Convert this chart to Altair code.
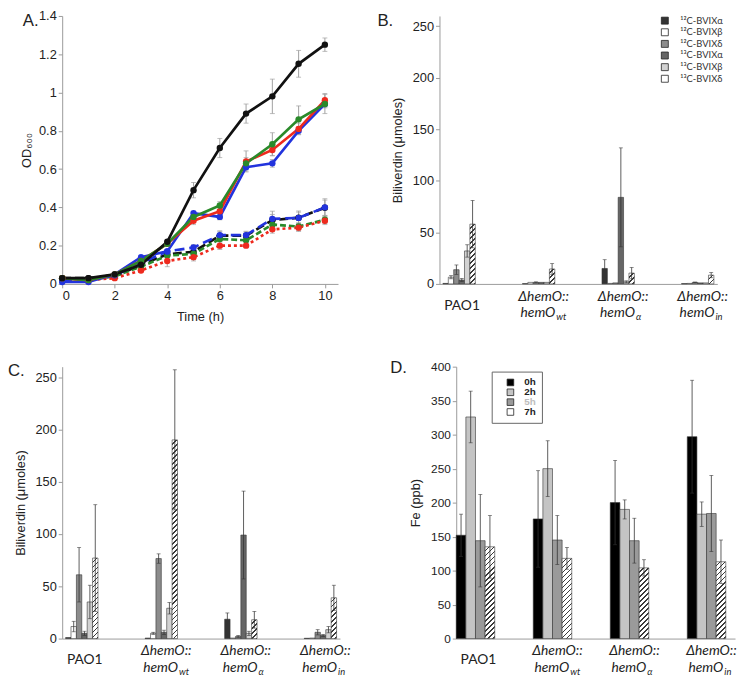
import math
import altair as alt
import pandas as pd

# ---------------- Panel A: growth curves ----------------
TIME_H = [0, 1, 2, 3, 4, 5, 6, 7, 8, 9, 10]

OD_BLACK = [0.03, 0.03, 0.05, 0.10, 0.22, 0.49, 0.71, 0.89, 0.98, 1.15, 1.25]
OD_BLACK_ERR = [0.005, 0.005, 0.005, 0.01, 0.01, 0.04, 0.05, 0.05, 0.09, 0.07, 0.035]
OD_RED = [0.03, 0.02, 0.05, 0.12, 0.21, 0.33, 0.38, 0.64, 0.70, 0.81, 0.96]
OD_RED_ERR = [0.005, 0.005, 0.005, 0.01, 0.01, 0.02, 0.02, 0.055, 0.03, 0.03, 0.035]
OD_GREEN = [0.03, 0.02, 0.05, 0.12, 0.21, 0.35, 0.41, 0.63, 0.73, 0.86, 0.94]
OD_GREEN_ERR = [0.005, 0.005, 0.005, 0.01, 0.01, 0.02, 0.02, 0.03, 0.06, 0.07, 0.05]
OD_BLUE = [0.01, 0.01, 0.05, 0.14, 0.17, 0.37, 0.35, 0.61, 0.63, 0.80, 0.94]
OD_BLUE_ERR = [0.005, 0.005, 0.005, 0.01, 0.01, 0.01, 0.015, 0.02, 0.02, 0.02, 0.02]
OD_BLACK_DASH = [0.03, 0.03, 0.04, 0.10, 0.155, 0.168, 0.252, 0.252, 0.333, 0.346, 0.398]
OD_BLACK_DASH_ERR = [0.005, 0.005, 0.005, 0.01, 0.02, 0.015, 0.025, 0.02, 0.03, 0.035, 0.04]
OD_BLUE_DASH = [0.02, 0.02, 0.045, 0.11, 0.17, 0.19, 0.255, 0.255, 0.34, 0.345, 0.40]
OD_BLUE_DASH_ERR = [0.005, 0.005, 0.005, 0.01, 0.01, 0.015, 0.02, 0.02, 0.04, 0.03, 0.045]
OD_GREEN_DASH = [0.03, 0.02, 0.04, 0.09, 0.148, 0.157, 0.235, 0.228, 0.31, 0.30, 0.335]
OD_GREEN_DASH_ERR = [0.005, 0.005, 0.005, 0.01, 0.01, 0.01, 0.015, 0.015, 0.02, 0.02, 0.02]
OD_RED_DOT = [0.03, 0.02, 0.03, 0.07, 0.12, 0.14, 0.20, 0.20, 0.285, 0.294, 0.33]
OD_RED_DOT_ERR = [0.005, 0.005, 0.005, 0.01, 0.03, 0.02, 0.02, 0.01, 0.02, 0.02, 0.02]

# ---------------- Panels B-D: groups ----------------
GROUP_KEYS = ["PAO1", "wt", "alpha", "in"]
GROUP_LINE1 = ["PAO1", "ΔhemO::", "ΔhemO::", "ΔhemO::"]
GROUP_LINE2 = ["", "hemO", "hemO", "hemO"]
GROUP_SUB = ["", "wt", "α", "in"]

BV_SERIES = ["¹²C-BVIXα", "¹²C-BVIXβ", "¹²C-BVIXδ", "¹³C-BVIXα", "¹³C-BVIXβ", "¹³C-BVIXδ"]

# Panel B (biliverdin, µmoles) one list per series, values per group
B_12CA = [0.5, 0.3, 15.0, 0.3]
B_12CA_ERR = [0, 0, 8.5, 0]
B_12CB = [6.5, 1.5, 0.5, 0.5]
B_12CB_ERR = [1.5, 0, 0, 0]
B_12CD = [13.8, 1.5, 1.0, 1.5]
B_12CD_ERR = [4.6, 0.5, 0, 0.3]
B_13CA = [3.8, 1.5, 84.0, 1.0]
B_13CA_ERR = [1.5, 0, 48.0, 0]
B_13CB = [32.0, 1.5, 2.0, 1.0]
B_13CB_ERR = [6.0, 0, 1.0, 0]
B_13CD = [58.0, 14.5, 10.5, 8.5]
B_13CD_ERR = [23.0, 5.2, 5.5, 2.5]

# Panel C
C_12CA = [1.0, 0.5, 18.5, 0.3]
C_12CA_ERR = [0, 0, 6.0, 0]
C_12CB = [11.5, 5.0, 0.5, 0.5]
C_12CB_ERR = [5.0, 1.0, 0, 0]
C_12CD = [61.0, 76.5, 2.0, 6.0]
C_12CD_ERR = [26.0, 4.5, 1.0, 2.5]
C_13CA = [5.0, 6.0, 99.0, 3.0]
C_13CA_ERR = [2.0, 2.0, 42.0, 1.0]
C_13CB = [35.0, 29.0, 5.0, 8.5]
C_13CB_ERR = [16.0, 5.5, 2.0, 3.0]
C_13CD = [77.0, 190.0, 18.0, 39.0]
C_13CD_ERR = [51.0, 67.0, 8.0, 12.0]

# Panel D (Fe, ppb)
FE_SERIES = ["0h", "2h", "5h", "7h"]
D_0H = [152, 176, 200, 297]
D_0H_ERR = [31, 71, 62, 83]
D_2H = [326, 250, 190, 183]
D_2H_ERR = [38, 41, 14, 18]
D_5H = [144, 145, 144, 184]
D_5H_ERR = [68, 36, 33, 56]
D_7H = [135, 118, 104, 113]
D_7H_ERR = [46, 16, 12, 32]

PANEL_LETTERS = ["A.", "B.", "C.", "D."]

NUM_FONT = "Liberation Sans"
CAT_FONT = "Lato"
AXIS_GRAY = "#9a9a9a"

INDEP = dict(x="independent", y="independent", xOffset="independent",
             color="independent", fill="independent")


def hatch_fill(w, h, period=3.6, frac=0.3, ink="#3a3a3a", bg="#ffffff"):
    """Diagonal '/' hatching as a bounding-box linear gradient."""
    if h < 1.5:
        return bg
    n = (w + h) / math.sqrt(2) / period
    d = w * w + h * h
    x2 = w * (w + h) / d
    y2 = h * (w + h) / d
    stops = []
    k = 0
    while k < n:
        a = k / n
        b = min((k + 1 - frac) / n, 1.0)
        c = min((k + 1) / n, 1.0)
        stops += [{"offset": a, "color": bg}, {"offset": b, "color": bg},
                  {"offset": b, "color": ink}, {"offset": c, "color": ink}]
        k += 1
    return {"gradient": "linear", "x1": 0, "y1": 0, "x2": x2, "y2": y2, "stops": stops}


def letter_layer(text, dx, dy):
    return alt.Chart(pd.DataFrame({"t": [text]})).mark_text(
        align="left", baseline="middle", font=NUM_FONT, fontSize=17, color="#222"
    ).encode(x=alt.value(dx), y=alt.value(dy), text="t:N")


# ---------------- Panel A ----------------
A_W, A_H = 280, 272
a_specs = [
    (OD_BLACK_DASH, OD_BLACK_DASH_ERR, "#111111", [9, 4]),
    (OD_GREEN_DASH, OD_GREEN_DASH_ERR, "#2a8a2a", [6, 3]),
    (OD_RED_DOT, OD_RED_DOT_ERR, "#ee2a1e", [3, 3]),
    (OD_BLUE_DASH, OD_BLUE_DASH_ERR, "#2233dd", [10, 5]),
    (OD_BLUE, OD_BLUE_ERR, "#2233dd", None),
    (OD_RED, OD_RED_ERR, "#ee2a1e", None),
    (OD_GREEN, OD_GREEN_ERR, "#2a8a2a", None),
    (OD_BLACK, OD_BLACK_ERR, "#111111", None),
]

axA_x = alt.Axis(values=[0, 2, 4, 6, 8, 10], title="Time (h)", grid=False, labelFontSize=13,
                 titleFontSize=13, titlePadding=8, format="d")
axA_y = alt.Axis(values=[0, 0.2, 0.4, 0.6, 0.8, 1.0, 1.2, 1.4], format=".1~f", title="OD₆₀₀",
                 grid=False, labelFontSize=13, titleFontSize=13, titlePadding=5)
scA_x = alt.Scale(domain=[0, 10.5], nice=False, zero=False)
scA_y = alt.Scale(domain=[0, 1.4], nice=False)

err_rows = []
for vals, errs, col, dash in a_specs:
    for t, v, e in zip(TIME_H, vals, errs):
        if e >= 0.012:
            err_rows.append({"t": t, "lo": v - e, "hi": v + e})
err_df = pd.DataFrame(err_rows)

a_layers = [
    alt.Chart(err_df).mark_rule(color="#a0a0a0", strokeWidth=1).encode(
        x=alt.X("t:Q", scale=scA_x, axis=axA_x), y=alt.Y("lo:Q", scale=scA_y, axis=axA_y), y2="hi:Q"),
    alt.Chart(err_df).mark_tick(color="#a0a0a0", orient="horizontal", size=5, thickness=1).encode(
        x=alt.X("t:Q", scale=scA_x, axis=axA_x), y=alt.Y("lo:Q", scale=scA_y, axis=axA_y)),
    alt.Chart(err_df).mark_tick(color="#a0a0a0", orient="horizontal", size=5, thickness=1).encode(
        x=alt.X("t:Q", scale=scA_x, axis=axA_x), y=alt.Y("hi:Q", scale=scA_y, axis=axA_y)),
]
point_layers = []
for vals, errs, col, dash in a_specs:
    df = pd.DataFrame({"t": TIME_H, "v": vals})
    base = alt.Chart(df).encode(x=alt.X("t:Q", scale=scA_x, axis=axA_x),
                                y=alt.Y("v:Q", scale=scA_y, axis=axA_y))
    kw = {"color": col, "strokeWidth": 2.7}
    if dash is not None:
        kw["strokeDash"] = dash
    a_layers.append(base.mark_line(**kw))
    point_layers.append(base.mark_circle(color=col, size=42, opacity=1))
a_layers += point_layers
a_layers.append(letter_layer(PANEL_LETTERS[0], -40, 5))
panelA = alt.layer(*a_layers).properties(width=A_W, height=A_H)


# ---------------- Bar panels ----------------
def bar_panel(series, colors, values, errors, width, height, ymax, yvalues, ytitle,
              pad_inner, pad_outer, align, legend, letter, ldx, ldy, label_size):
    rows = []
    for s, vals, errs in zip(series, values, errors):
        for g, v, e in zip(GROUP_KEYS, vals, errs):
            rows.append({"group": g, "series": s, "v": v, "lo": v - e, "hi": v + e, "err": e})
    df = pd.DataFrame(rows)
    step = width / (len(GROUP_KEYS) - pad_inner + 2 * pad_outer)
    bar_w = step * (1 - pad_inner) / len(series)
    px = height / ymax
    hatch_name = series[-1]
    hatch_rows = []
    for r in rows:
        if r["series"] == hatch_name:
            hatch_rows.append({"group": r["group"], "series": r["series"], "v": r["v"],
                               "fillv": hatch_fill(bar_w, r["v"] * px)})

    x = alt.X("group:N", scale=alt.Scale(domain=GROUP_KEYS, paddingInner=pad_inner,
                                         paddingOuter=pad_outer, align=align),
              axis=alt.Axis(labels=False, ticks=False, title=None, domainColor=AXIS_GRAY))
    xo = alt.XOffset("series:N", scale=alt.Scale(domain=series, paddingInner=0, paddingOuter=0))
    ysc = alt.Scale(domain=[0, ymax], nice=False)
    yax = alt.Axis(values=yvalues, title=ytitle, grid=False, labelFontSize=label_size,
                   titleFontSize=13, titlePadding=8)

    solid = alt.Chart(df[df.series != hatch_name]).mark_bar(stroke="#333333", strokeWidth=0.6).encode(
        x=x, xOffset=xo, y=alt.Y("v:Q", stack=None, scale=ysc, axis=yax),
        color=alt.Color("series:N", scale=alt.Scale(domain=series, range=colors), legend=legend))
    hatched = alt.Chart(alt.Data(values=hatch_rows)).mark_bar(stroke="#333333", strokeWidth=0.6).encode(
        x=x, xOffset=xo, y=alt.Y("v:Q", stack=None, scale=ysc, axis=yax),
        fill=alt.Fill("fillv:N", scale=None))
    de = df[df.err > 0]
    rule = alt.Chart(de).mark_rule(color="#333333", strokeWidth=0.8).encode(
        x=x, xOffset=xo, y=alt.Y("lo:Q", scale=ysc, axis=yax), y2="hi:Q")
    cap_lo = alt.Chart(de).mark_tick(color="#333333", size=4, thickness=0.8).encode(
        x=x, xOffset=xo, y=alt.Y("lo:Q", scale=ysc, axis=yax))
    cap_hi = alt.Chart(de).mark_tick(color="#333333", size=4, thickness=0.8).encode(
        x=x, xOffset=xo, y=alt.Y("hi:Q", scale=ysc, axis=yax))

    lab = pd.DataFrame({"group": GROUP_KEYS, "l1": GROUP_LINE1, "l2": GROUP_LINE2, "sub": GROUP_SUB})
    pao = alt.Chart(lab.iloc[:1]).mark_text(font=CAT_FONT, fontSize=14, baseline="middle", dx=3,
                                            color="#222").encode(
        x=x, y=alt.value(height + 22), text="l1:N")
    l1 = alt.Chart(lab.iloc[1:]).mark_text(font=CAT_FONT, fontSize=14, fontStyle="italic",
                                           baseline="middle", dx=5, color="#222").encode(
        x=x, y=alt.value(height + 13), text="l1:N")
    l2 = alt.Chart(lab.iloc[1:]).mark_text(font=CAT_FONT, fontSize=14, fontStyle="italic",
                                           baseline="middle", align="right", dx=17, color="#222").encode(
        x=x, y=alt.value(height + 30), text="l2:N")
    sub = alt.Chart(lab.iloc[1:]).mark_text(font=CAT_FONT, fontSize=9.5, fontStyle="italic",
                                            baseline="middle", align="left", dx=18, color="#222").encode(
        x=x, y=alt.value(height + 34), text="sub:N")
    return alt.layer(solid, hatched, rule, cap_lo, cap_hi, pao, l1, l2, sub,
                     letter_layer(letter, ldx, ldy)).properties(width=width, height=height)


BV_COLORS = ["#333333", "#ffffff", "#8c8c8c", "#666666", "#d2d2d2", "#ffffff"]

legendB = alt.Legend(orient="none", legendX=224, legendY=0, title=None, symbolType="square",
                     symbolSize=50, symbolStrokeColor="#222222", symbolStrokeWidth=0.8,
                     labelFont=CAT_FONT, labelFontSize=9.5, labelColor="#333333", rowPadding=0.8,
                     labelOffset=11)

panelB = bar_panel(BV_SERIES, BV_COLORS,
                   [B_12CA, B_12CB, B_12CD, B_13CA, B_13CB, B_13CD],
                   [B_12CA_ERR, B_12CB_ERR, B_12CD_ERR, B_13CA_ERR, B_13CB_ERR, B_13CD_ERR],
                   282, 272, 260, [0, 50, 100, 150, 200, 250], "Biliverdin (μmoles)",
                   0.593, 0.043, 0.5, legendB, PANEL_LETTERS[1], -63, 5, 13)

panelC = bar_panel(BV_SERIES, BV_COLORS,
                   [C_12CA, C_12CB, C_12CD, C_13CA, C_13CB, C_13CD],
                   [C_12CA_ERR, C_12CB_ERR, C_12CD_ERR, C_13CA_ERR, C_13CB_ERR, C_13CD_ERR],
                   282, 276, 260, [0, 50, 100, 150, 200, 250], "Biliverdin (μmoles)",
                   0.593, 0.043, 0.5, None, PANEL_LETTERS[2], -55, 4, 13)

legendD = alt.Legend(orient="none", legendX=36, legendY=5, title=None, symbolType="square",
                     symbolSize=45, symbolStrokeColor="#222222", symbolStrokeWidth=0.8,
                     labelFont=NUM_FONT, labelFontSize=10, labelFontWeight="bold",
                     labelColor={"expr": "datum.label == '5h' ? '#bdbdbd' : '#222222'"},
                     strokeColor="#666666", fillColor="#ffffff", padding=6, rowPadding=0,
                     symbolOffset=8, labelOffset=9)

panelD = bar_panel(FE_SERIES, ["#000000", "#c4c4c4", "#9a9a9a", "#ffffff"],
                   [D_0H, D_2H, D_5H, D_7H],
                   [D_0H_ERR, D_2H_ERR, D_5H_ERR, D_7H_ERR],
                   283, 276, 400, [0, 50, 100, 150, 200, 250, 300, 350, 400], "Fe (ppb)",
                   0.5, 0.06, 0.0, legendD, PANEL_LETTERS[3], -67, 1, 12)

row1 = alt.hconcat(panelA, panelB, spacing=40).resolve_scale(**INDEP).resolve_legend(color="independent")
row2 = alt.hconcat(panelC, panelD, spacing=40).resolve_scale(**INDEP).resolve_legend(color="independent")

chart = alt.vconcat(row1, row2, spacing=36).properties(
    padding={"top": -3, "left": 0, "right": 0, "bottom": 0}
).configure_view(
    stroke=None
).configure_axis(
    domainColor=AXIS_GRAY, tickColor=AXIS_GRAY, labelColor="#222222", titleColor="#222222",
    labelFont=NUM_FONT, titleFont=NUM_FONT, titleFontWeight="normal", tickSize=4
).resolve_scale(**INDEP).resolve_legend(color="independent")

chart.save("out.html", embed_options={"renderer": "svg", "actions": False})
